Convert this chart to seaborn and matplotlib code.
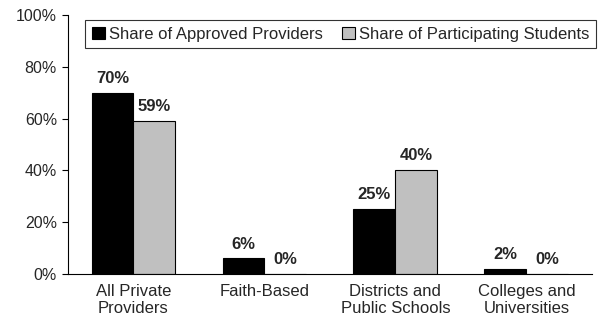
import matplotlib
matplotlib.use("Agg")
import matplotlib.pyplot as plt
import seaborn as sns
import pandas as pd
from matplotlib.ticker import PercentFormatter

# data
categories = ["All Private\nProviders", "Faith-Based", "Districts and\nPublic Schools", "Colleges and\nUniversities"]
approved_providers = [70, 6, 25, 2]
participating_students = [59, 0, 40, 0]
series_names = ["Share of Approved Providers", "Share of Participating Students"]

df = pd.DataFrame({
    "category": categories * 2,
    "share": approved_providers + participating_students,
    "series": [series_names[0]] * len(categories) + [series_names[1]] * len(categories),
})

sns.set_style("white")
plt.rcParams["font.family"] = ["Liberation Sans", "DejaVu Sans"]

fig = plt.figure(figsize=(5.98, 3.32), dpi=100)
ax = fig.add_axes([0.1137, 0.1747, 0.876, 0.78])

sns.barplot(data=df, x="category", y="share", hue="series",
            palette=["black", "#c0c0c0"], width=0.64, saturation=1,
            edgecolor="black", linewidth=0.8, ax=ax)

for cont in ax.containers:
    ax.bar_label(cont, fmt="%.0f%%", padding=5, fontsize=12, fontweight="bold")

ax.set_ylim(0, 100)
ax.set_yticks(range(0, 101, 20))
ax.yaxis.set_major_formatter(PercentFormatter(decimals=0))
ax.set_xlabel("")
ax.set_ylabel("")
ax.tick_params(axis="y", length=4, width=0.8, color="black", labelsize=11.5, left=True, pad=4)
ax.tick_params(axis="x", length=0, labelsize=12, pad=7)

for s in ["top", "right"]:
    ax.spines[s].set_visible(False)
for s in ["left", "bottom"]:
    ax.spines[s].set_color("black")
    ax.spines[s].set_linewidth(0.8)

leg = ax.legend(loc="upper left", bbox_to_anchor=(0.033, 0.981), ncol=2,
                frameon=True, fancybox=False, fontsize=12, handlelength=0.8,
                handleheight=0.8, handletextpad=0.25, columnspacing=1.1,
                borderpad=0.4, borderaxespad=0, title=None)
leg.get_frame().set_edgecolor("black")
leg.get_frame().set_linewidth(0.8)

fig.savefig("out.png", dpi=100)
